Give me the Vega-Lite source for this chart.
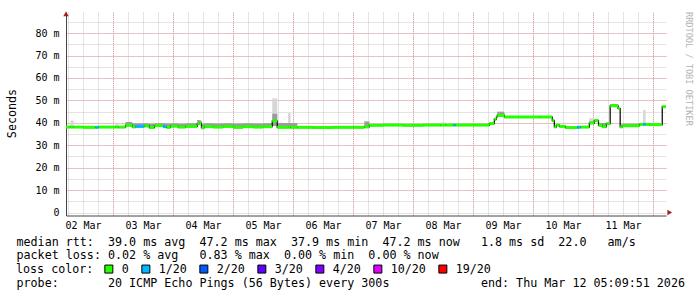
{
  "$schema": "https://vega.github.io/schema/vega-lite/v6.json",
  "width": 600,
  "height": 203.5,
  "autosize": {"type": "none"},
  "padding": {"left": 66, "top": 12, "right": 31, "bottom": 81.5},
  "background": "white",
  "config": {"view": {"stroke": null}, "bar": {"continuousBandSize": 3}},
  "title": {"text": "RRDTOOL / TOBI OETIKER", "orient": "right", "anchor": "start", "frame": "group", "angle": 90, "font": "DejaVu Sans Mono", "fontSize": 8.6, "fontWeight": "normal", "color": "#b4b4b4", "offset": 0},
  "resolve": {"axis": {"x": "independent", "y": "independent"}},
  "data": {"values": [
      {"t": "2026-03-02T05:10:00Z", "m": 38.1, "loss": "0", "lo": 37.7, "hi": 38.5, "sp": 38.5},
      {"t": "2026-03-02T07:00:00Z", "m": 38.1, "loss": "0", "lo": 37.7, "hi": 38.5, "sp": 41.0},
      {"t": "2026-03-02T08:10:00Z", "m": 38.1, "loss": "0", "lo": 37.7, "hi": 38.5, "sp": 38.5},
      {"t": "2026-03-02T12:00:00Z", "m": 38.0, "loss": "0", "lo": 37.6, "hi": 38.4, "sp": 38.4},
      {"t": "2026-03-02T17:00:00Z", "m": 38.0, "loss": "1/20", "lo": 37.6, "hi": 38.4, "sp": 38.4},
      {"t": "2026-03-02T18:10:00Z", "m": 38.1, "loss": "0", "lo": 37.7, "hi": 38.5, "sp": 38.5},
      {"t": "2026-03-02T22:00:00Z", "m": 38.1, "loss": "0", "lo": 37.7, "hi": 38.5, "sp": 38.5},
      {"t": "2026-03-03T01:00:00Z", "m": 38.1, "loss": "0", "lo": 37.7, "hi": 38.5, "sp": 40.0},
      {"t": "2026-03-03T02:10:00Z", "m": 38.1, "loss": "0", "lo": 37.7, "hi": 38.5, "sp": 38.5},
      {"t": "2026-03-03T05:00:00Z", "m": 38.9, "loss": "0", "lo": 38.5, "hi": 40.4, "sp": 40.4},
      {"t": "2026-03-03T07:40:00Z", "m": 38.2, "loss": "0", "lo": 37.8, "hi": 39.8, "sp": 39.8},
      {"t": "2026-03-03T09:00:00Z", "m": 38.4, "loss": "1/20", "lo": 38.0, "hi": 39.8, "sp": 39.8},
      {"t": "2026-03-03T12:30:00Z", "m": 38.6, "loss": "0", "lo": 38.2, "hi": 39.8, "sp": 39.8},
      {"t": "2026-03-03T14:30:00Z", "m": 37.9, "loss": "0", "lo": 37.5, "hi": 39.6, "sp": 39.6},
      {"t": "2026-03-03T16:30:00Z", "m": 38.8, "loss": "0", "lo": 38.4, "hi": 39.8, "sp": 39.8},
      {"t": "2026-03-03T20:00:00Z", "m": 38.3, "loss": "1/20", "lo": 37.9, "hi": 39.8, "sp": 39.8},
      {"t": "2026-03-03T21:20:00Z", "m": 38.0, "loss": "0", "lo": 37.6, "hi": 39.7, "sp": 39.7},
      {"t": "2026-03-03T23:00:00Z", "m": 38.5, "loss": "0", "lo": 38.1, "hi": 39.8, "sp": 39.8},
      {"t": "2026-03-04T02:00:00Z", "m": 38.1, "loss": "0", "lo": 37.7, "hi": 39.6, "sp": 39.6},
      {"t": "2026-03-04T05:00:00Z", "m": 38.4, "loss": "0", "lo": 38.0, "hi": 39.8, "sp": 39.8},
      {"t": "2026-03-04T09:40:00Z", "m": 39.6, "loss": "0", "lo": 39.2, "hi": 41.3, "sp": 41.3},
      {"t": "2026-03-04T10:30:00Z", "m": 39.9, "loss": "0", "lo": 39.5, "hi": 41.0, "sp": 41.0},
      {"t": "2026-03-04T11:20:00Z", "m": 37.8, "loss": "0", "lo": 37.4, "hi": 39.6, "sp": 39.6},
      {"t": "2026-03-04T12:30:00Z", "m": 38.3, "loss": "0", "lo": 37.9, "hi": 39.8, "sp": 39.8},
      {"t": "2026-03-04T16:00:00Z", "m": 38.1, "loss": "0", "lo": 37.7, "hi": 39.7, "sp": 39.7},
      {"t": "2026-03-04T20:00:00Z", "m": 38.4, "loss": "0", "lo": 38.0, "hi": 39.8, "sp": 39.8},
      {"t": "2026-03-05T00:00:00Z", "m": 38.0, "loss": "0", "lo": 37.6, "hi": 39.7, "sp": 39.7},
      {"t": "2026-03-05T04:00:00Z", "m": 38.3, "loss": "0", "lo": 37.9, "hi": 39.8, "sp": 39.8},
      {"t": "2026-03-05T08:00:00Z", "m": 38.1, "loss": "0", "lo": 37.7, "hi": 39.7, "sp": 39.7},
      {"t": "2026-03-05T12:00:00Z", "m": 38.3, "loss": "0", "lo": 37.9, "hi": 39.8, "sp": 39.8},
      {"t": "2026-03-05T15:40:00Z", "m": 40.8, "loss": "0", "lo": 38.6, "hi": 44.0, "sp": 50.8},
      {"t": "2026-03-05T17:40:00Z", "m": 38.0, "loss": "0", "lo": 37.6, "hi": 39.9, "sp": 39.9},
      {"t": "2026-03-05T22:00:00Z", "m": 38.0, "loss": "0", "lo": 37.6, "hi": 39.9, "sp": 44.4},
      {"t": "2026-03-05T23:00:00Z", "m": 38.0, "loss": "0", "lo": 37.6, "hi": 39.9, "sp": 39.9},
      {"t": "2026-03-06T01:40:00Z", "m": 38.0, "loss": "0", "lo": 37.6, "hi": 38.4, "sp": 38.4},
      {"t": "2026-03-06T08:00:00Z", "m": 37.9, "loss": "0", "lo": 37.5, "hi": 38.3, "sp": 38.3},
      {"t": "2026-03-06T16:00:00Z", "m": 38.0, "loss": "0", "lo": 37.6, "hi": 38.4, "sp": 38.4},
      {"t": "2026-03-07T00:00:00Z", "m": 38.0, "loss": "0", "lo": 37.6, "hi": 38.4, "sp": 38.4},
      {"t": "2026-03-07T04:30:00Z", "m": 38.2, "loss": "0", "lo": 37.8, "hi": 40.6, "sp": 40.6},
      {"t": "2026-03-07T06:30:00Z", "m": 38.9, "loss": "0", "lo": 38.5, "hi": 39.3, "sp": 39.3},
      {"t": "2026-03-07T12:00:00Z", "m": 39.0, "loss": "0", "lo": 38.6, "hi": 39.4, "sp": 39.4},
      {"t": "2026-03-07T20:00:00Z", "m": 38.9, "loss": "0", "lo": 38.5, "hi": 39.3, "sp": 39.3},
      {"t": "2026-03-08T04:00:00Z", "m": 39.0, "loss": "0", "lo": 38.6, "hi": 39.4, "sp": 39.4},
      {"t": "2026-03-08T11:00:00Z", "m": 39.0, "loss": "0", "lo": 38.6, "hi": 39.4, "sp": 40.1},
      {"t": "2026-03-08T13:00:00Z", "m": 39.0, "loss": "0", "lo": 38.6, "hi": 39.4, "sp": 39.4},
      {"t": "2026-03-08T16:10:00Z", "m": 39.0, "loss": "1/20", "lo": 38.6, "hi": 39.4, "sp": 39.4},
      {"t": "2026-03-08T17:00:00Z", "m": 39.0, "loss": "0", "lo": 38.6, "hi": 39.4, "sp": 39.4},
      {"t": "2026-03-09T00:00:00Z", "m": 39.0, "loss": "0", "lo": 38.6, "hi": 39.4, "sp": 39.4},
      {"t": "2026-03-09T06:30:00Z", "m": 39.7, "loss": "0", "lo": 39.3, "hi": 40.0, "sp": 40.0},
      {"t": "2026-03-09T08:30:00Z", "m": 41.6, "loss": "0", "lo": 41.2, "hi": 42.0, "sp": 42.0},
      {"t": "2026-03-09T09:20:00Z", "m": 42.6, "loss": "0", "lo": 42.2, "hi": 43.0, "sp": 43.0},
      {"t": "2026-03-09T09:40:00Z", "m": 43.3, "loss": "0", "lo": 42.9, "hi": 44.9, "sp": 44.9},
      {"t": "2026-03-09T12:30:00Z", "m": 42.6, "loss": "0", "lo": 42.2, "hi": 43.0, "sp": 43.0},
      {"t": "2026-03-09T20:00:00Z", "m": 42.6, "loss": "0", "lo": 42.2, "hi": 43.0, "sp": 43.0},
      {"t": "2026-03-10T03:00:00Z", "m": 42.6, "loss": "0", "lo": 42.2, "hi": 43.0, "sp": 43.0},
      {"t": "2026-03-10T07:40:00Z", "m": 41.0, "loss": "0", "lo": 40.6, "hi": 41.5, "sp": 41.5},
      {"t": "2026-03-10T08:30:00Z", "m": 38.2, "loss": "0", "lo": 37.8, "hi": 38.7, "sp": 38.7},
      {"t": "2026-03-10T09:20:00Z", "m": 39.0, "loss": "0", "lo": 38.6, "hi": 39.4, "sp": 39.4},
      {"t": "2026-03-10T10:30:00Z", "m": 38.4, "loss": "0", "lo": 38.0, "hi": 38.8, "sp": 38.8},
      {"t": "2026-03-10T12:55:00Z", "m": 37.9, "loss": "0", "lo": 37.5, "hi": 38.3, "sp": 38.3},
      {"t": "2026-03-10T17:40:00Z", "m": 38.0, "loss": "1/20", "lo": 37.6, "hi": 38.4, "sp": 38.4},
      {"t": "2026-03-10T19:00:00Z", "m": 38.1, "loss": "0", "lo": 37.7, "hi": 38.5, "sp": 38.5},
      {"t": "2026-03-10T22:30:00Z", "m": 39.9, "loss": "0", "lo": 39.5, "hi": 40.6, "sp": 42.0},
      {"t": "2026-03-11T00:30:00Z", "m": 41.0, "loss": "0", "lo": 40.6, "hi": 41.5, "sp": 41.5},
      {"t": "2026-03-11T02:10:00Z", "m": 38.9, "loss": "0", "lo": 38.5, "hi": 39.9, "sp": 39.9},
      {"t": "2026-03-11T03:40:00Z", "m": 38.3, "loss": "0", "lo": 37.9, "hi": 39.9, "sp": 39.9},
      {"t": "2026-03-11T05:20:00Z", "m": 39.6, "loss": "0", "lo": 39.2, "hi": 39.9, "sp": 39.9},
      {"t": "2026-03-11T06:50:00Z", "m": 47.6, "loss": "0", "lo": 47.2, "hi": 48.4, "sp": 48.4},
      {"t": "2026-03-11T10:00:00Z", "m": 46.4, "loss": "0", "lo": 46.0, "hi": 46.8, "sp": 46.8},
      {"t": "2026-03-11T10:50:00Z", "m": 38.2, "loss": "0", "lo": 37.8, "hi": 39.3, "sp": 39.3},
      {"t": "2026-03-11T11:40:00Z", "m": 38.7, "loss": "0", "lo": 38.3, "hi": 39.6, "sp": 39.6},
      {"t": "2026-03-11T18:30:00Z", "m": 39.3, "loss": "0", "lo": 38.9, "hi": 39.8, "sp": 39.8},
      {"t": "2026-03-11T20:00:00Z", "m": 39.3, "loss": "1/20", "lo": 38.9, "hi": 39.8, "sp": 45.7},
      {"t": "2026-03-11T21:00:00Z", "m": 39.3, "loss": "0", "lo": 38.9, "hi": 39.8, "sp": 39.8},
      {"t": "2026-03-11T22:30:00Z", "m": 39.2, "loss": "0", "lo": 38.8, "hi": 39.6, "sp": 39.6},
      {"t": "2026-03-12T03:40:00Z", "m": 47.2, "loss": "0", "lo": 46.8, "hi": 47.5, "sp": 47.5},
      {"t": "2026-03-12T05:10:00Z", "m": 47.2, "loss": "0", "lo": 46.8, "hi": 47.5, "sp": 47.5}
  ]},
  "layer": [
    {
      "mark": {"type": "area", "interpolate": "step-after", "color": "#d6d6d6", "opacity": 1},
      "encoding": {
        "x": {
          "field": "t", "type": "temporal",
          "scale": {"type": "utc", "domain": [1772428200000, 1773292200000]},
          "axis": {
            "orient": "bottom",
            "title": [
              "median\u00a0rtt:\u00a0\u00a039.0\u00a0ms\u00a0avg\u00a0\u00a047.2\u00a0ms\u00a0max\u00a0\u00a037.9\u00a0ms\u00a0min\u00a0\u00a047.2\u00a0ms\u00a0now\u00a0\u00a0\u00a01.8\u00a0ms\u00a0sd\u00a0\u00a022.0\u00a0\u00a0\u00a0am/s",
              "packet\u00a0loss:\u00a00.02\u00a0%\u00a0avg\u00a0\u00a0\u00a00.83\u00a0%\u00a0max\u00a0\u00a00.00\u00a0%\u00a0min\u00a0\u00a00.00\u00a0%\u00a0now"
            ],
            "titleFont": "DejaVu Sans Mono", "titleFontSize": 11.7, "titleFontWeight": "normal", "titleColor": "#000000",
            "titleAlign": "left", "titleAnchor": "start", "titleAngle": 0, "titleX": -50, "titleY": 29.5, "titleBaseline": "alphabetic", "titleLineHeight": 13.9,
            "values": [1772431200000, 1772452800000, 1772474400000, 1772496000000, 1772517600000, 1772539200000, 1772560800000, 1772582400000, 1772604000000, 1772625600000, 1772647200000, 1772668800000, 1772690400000, 1772712000000, 1772733600000, 1772755200000, 1772776800000, 1772798400000, 1772820000000, 1772841600000, 1772863200000, 1772884800000, 1772906400000, 1772928000000, 1772949600000, 1772971200000, 1772992800000, 1773014400000, 1773036000000, 1773057600000, 1773079200000, 1773100800000, 1773122400000, 1773144000000, 1773165600000, 1773187200000, 1773208800000, 1773230400000, 1773252000000, 1773273600000],
            "labelExpr": "utchours(datum.value) == 12 ? utcFormat(datum.value, '%d %b') : ''",
            "labelFont": "DejaVu Sans Mono", "labelFontSize": 10, "labelColor": "#000000", "labelPadding": 5,
            "labelOverlap": false, "labelBound": false, "labelFlush": false,
            "ticks": false, "domainColor": "#444444", "domainWidth": 1,
            "grid": true, "gridDash": [1, 1], "gridWidth": 1, "gridColor": "#c8c8c8"
          }
        },
        "y": {
          "field": "lo", "type": "quantitative",
          "scale": {"domain": [0, 88.1], "nice": false, "zero": true},
          "axis": {
            "orient": "left",
            "title": "Seconds", "titleFont": "DejaVu Sans Mono", "titleFontSize": 11.7, "titleFontWeight": "normal", "titleColor": "#000000",
            "titleAngle": -90, "titleX": -51, "titleY": 101, "titleBaseline": "alphabetic", "titleAlign": "center",
            "values": [0, 5, 10, 15, 20, 25, 30, 35, 40, 45, 50, 55, 60, 65, 70, 75, 80, 85],
            "labelExpr": "datum.value % 10 == 0 ? (datum.value == 0 ? '0' : datum.value + ' m') : ''",
            "labelFont": "DejaVu Sans Mono", "labelFontSize": 10, "labelColor": "#000000", "labelPadding": 7,
            "ticks": false, "domainColor": "#444444", "domainWidth": 1,
            "grid": true, "gridDash": [1, 1], "gridWidth": 1, "gridColor": "#c8c8c8"
          }
        },
        "y2": {"field": "sp"}
      }
    },
    {
      "mark": {"type": "area", "interpolate": "step-after", "color": "#9c9c9c", "opacity": 1},
      "encoding": {
        "x": {
          "field": "t", "type": "temporal",
          "axis": {
            "orient": "top", "labels": false, "ticks": false, "domain": false,
            "title": "probe:\u00a0\u00a0\u00a0\u00a0\u00a0\u00a0\u00a020\u00a0ICMP\u00a0Echo\u00a0Pings\u00a0(56\u00a0Bytes)\u00a0every\u00a0300s\u00a0\u00a0\u00a0\u00a0\u00a0\u00a0\u00a0\u00a0\u00a0\u00a0\u00a0\u00a0\u00a0end:\u00a0Thu\u00a0Mar\u00a012\u00a005:09:51\u00a02026",
            "titleFont": "DejaVu Sans Mono", "titleFontSize": 11.7, "titleFontWeight": "normal", "titleColor": "#000000",
            "titleAlign": "left", "titleAnchor": "start", "titleAngle": 0, "titleX": -50, "titleY": 274.7, "titleBaseline": "alphabetic",
            "values": [1772496000000, 1772582400000, 1772668800000, 1772755200000, 1772841600000, 1772928000000, 1773014400000, 1773100800000, 1773187200000, 1773273600000],
            "grid": true, "gridDash": [1, 1], "gridWidth": 1, "gridColor": "#eaa0a0"
          }
        },
        "y": {
          "field": "lo", "type": "quantitative",
          "axis": {
            "orient": "right", "title": null, "labels": false, "ticks": false, "domain": false,
            "values": [10, 20, 30, 40, 50, 60, 70, 80],
            "grid": true, "gridDash": [1, 1], "gridWidth": 1, "gridColor": "#eaa0a0"
          }
        },
        "y2": {"field": "hi"}
      }
    },
    {
      "mark": {"type": "line", "interpolate": "step-after", "color": "#000000", "strokeWidth": 1.2},
      "encoding": {
        "x": {"field": "t", "type": "temporal", "axis": null},
        "y": {"field": "m", "type": "quantitative", "axis": null}
      }
    },
    {
      "transform": [
        {"window": [{"op": "lead", "field": "t", "as": "t2"}], "sort": [{"field": "t", "order": "ascending"}]},
        {"filter": "datum.t2 != null"}
      ],
      "mark": {"type": "bar", "size": 3, "opacity": 1},
      "encoding": {
        "x": {"field": "t", "type": "temporal", "axis": null},
        "x2": {"field": "t2"},
        "y": {"field": "m", "type": "quantitative", "axis": null},
        "color": {
          "field": "loss", "type": "nominal",
          "scale": {"domain": ["0", "1/20", "2/20", "3/20", "4/20", "10/20", "19/20"], "range": ["#26ff00", "#00b8ff", "#0059ff", "#5e00ff", "#7e00ff", "#dd00ff", "#ff0000"]},
          "legend": {
            "title": "loss color:", "orient": "none", "legendX": -50, "legendY": 251, "direction": "horizontal", "columns": 7,
            "titleOrient": "left", "titleFont": "DejaVu Sans Mono", "titleFontSize": 11.7, "titleFontWeight": "normal", "titleColor": "#000000", "titlePadding": 9,
            "labelFont": "DejaVu Sans Mono", "labelFontSize": 11.7, "labelColor": "#000000", "labelOffset": 7,
            "symbolType": "square", "symbolSize": 64, "symbolStrokeColor": "#000000", "symbolStrokeWidth": 1, "columnPadding": 10, "padding": 0
          }
        }
      }
    },
    {
      "data": {"values": [
        {"t": "2026-03-12T06:40:00Z", "v": 0, "dir": "right"},
        {"t": "2026-03-02T05:10:00Z", "v": 88.6, "dir": "up"}
      ]},
      "mark": {"type": "point", "filled": true, "size": 30, "color": "#a52020", "opacity": 1},
      "encoding": {
        "x": {"field": "t", "type": "temporal", "axis": null},
        "y": {"field": "v", "type": "quantitative", "axis": null},
        "shape": {"field": "dir", "type": "nominal", "scale": {"domain": ["right", "up"], "range": ["triangle-right", "triangle-up"]}, "legend": null}
      }
    }
  ]
}
